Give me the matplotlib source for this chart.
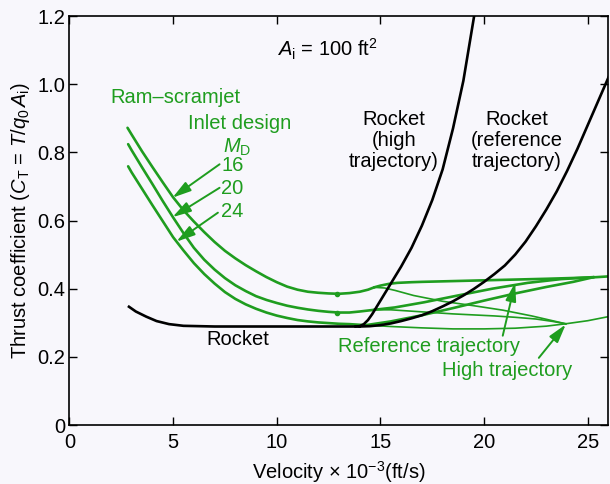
import matplotlib.pyplot as plt

plt.rcParams['font.family'] = ['Liberation Sans', 'DejaVu Sans']
plt.rcParams['mathtext.fontset'] = 'custom'
plt.rcParams['mathtext.rm'] = 'Liberation Sans'
plt.rcParams['mathtext.it'] = 'Liberation Sans:italic'
plt.rcParams['mathtext.bf'] = 'Liberation Sans:bold'

GREEN = '#1f9d1f'
BG = '#f8f7fc'
FS = 14.5

# ram-scramjet curves (common part, before the trajectories split)
md16_x = [2.8, 3.0, 3.5, 4.0, 4.5, 5.0, 5.5, 6.0, 6.5, 7.0, 7.5, 8.0, 8.5, 9.0, 9.5,
          10.0, 10.5, 11.0, 11.5, 12.0, 12.5, 13.0, 13.5, 14.0, 14.4, 14.7]
md16_y = [0.872, 0.852, 0.803, 0.757, 0.712, 0.668, 0.630, 0.597, 0.566, 0.537, 0.511,
          0.489, 0.469, 0.451, 0.434, 0.419, 0.406, 0.397, 0.391, 0.388, 0.386, 0.385,
          0.387, 0.391, 0.397, 0.404]
md20_x = [2.83, 3.0, 3.5, 4.0, 4.5, 5.0, 5.5, 6.0, 6.5, 7.0, 7.5, 8.0, 8.5, 9.0, 9.5,
          10.0, 10.5, 11.0, 11.5, 12.0, 12.5, 13.0, 13.5, 14.0, 14.7]
md20_y = [0.824, 0.806, 0.756, 0.707, 0.657, 0.609, 0.563, 0.520, 0.485, 0.456, 0.431,
          0.410, 0.393, 0.378, 0.367, 0.358, 0.350, 0.344, 0.339, 0.335, 0.332, 0.330,
          0.330, 0.333, 0.338]
md24_x = [2.83, 3.0, 3.5, 4.0, 4.5, 5.0, 5.5, 6.0, 6.5, 7.0, 7.5, 8.0, 8.5, 9.0, 9.5,
          10.0, 10.5, 11.0, 11.5, 12.0, 12.5, 13.0, 13.5, 14.0, 14.3]
md24_y = [0.759, 0.741, 0.693, 0.645, 0.598, 0.551, 0.512, 0.475, 0.443, 0.415, 0.390,
          0.370, 0.354, 0.341, 0.330, 0.321, 0.314, 0.308, 0.304, 0.301, 0.299, 0.297,
          0.296, 0.294, 0.293]

# reference trajectory branches
ref16_x = [14.7, 15.0, 15.4, 15.8, 16.5, 17.0, 19.0, 21.0, 23.0, 25.2, 26.0]
ref16_y = [0.404, 0.409, 0.414, 0.417, 0.419, 0.420, 0.423, 0.426, 0.429, 0.433, 0.436]
ref20_x = [14.7, 15.7, 17.1, 18.9, 20.4, 22.1, 23.7, 25.3]
ref20_y = [0.338, 0.345, 0.360, 0.382, 0.400, 0.417, 0.428, 0.434]
ref24_x = [14.3, 15.5, 17.0, 18.5, 20.0, 21.5, 23.0, 24.3, 25.3]
ref24_y = [0.293, 0.304, 0.322, 0.343, 0.365, 0.386, 0.405, 0.420, 0.434]

# high trajectory branches
high16_x = [14.7, 15.2, 15.7, 16.6, 18.0, 19.5, 20.9, 22.3, 23.94]
high16_y = [0.404, 0.402, 0.395, 0.380, 0.363, 0.350, 0.337, 0.320, 0.297]
high20_x = [14.7, 15.5, 16.5, 17.5, 18.5, 19.5, 20.5, 21.5, 22.5, 23.3, 23.94]
high20_y = [0.338, 0.338, 0.334, 0.330, 0.326, 0.323, 0.320, 0.316, 0.311, 0.304, 0.297]
high24_x = [14.3, 15.5, 17.0, 18.5, 20.0, 21.5, 23.0, 23.94]
high24_y = [0.293, 0.289, 0.285, 0.282, 0.282, 0.284, 0.290, 0.297]
high_end_x = [23.94, 25.0, 26.0]
high_end_y = [0.297, 0.306, 0.318]

# rocket
rocket_x = [2.87, 3.2, 3.7, 4.2, 4.8, 5.5, 7.0, 10.0, 13.0, 14.0]
rocket_y = [0.347, 0.333, 0.318, 0.305, 0.296, 0.291, 0.289, 0.289, 0.289, 0.289]
rocket_high_x = [13.8, 14.0, 14.2, 14.4, 14.6, 15.0, 15.5, 16.0, 16.5, 17.0, 17.5,
                 18.0, 18.5, 19.0, 19.52]
rocket_high_y = [0.289, 0.290, 0.296, 0.308, 0.325, 0.365, 0.415, 0.465, 0.520, 0.585,
                 0.660, 0.750, 0.870, 1.010, 1.200]
rocket_ref_x = [14.0, 14.5, 15.0, 15.5, 16.0, 16.5, 17.0, 17.5, 18.0, 18.5, 19.0, 19.5,
                20.0, 20.5, 21.0, 21.5, 22.0, 22.5, 23.0, 23.5, 24.0, 24.5, 25.0,
                25.5, 26.0]
rocket_ref_y = [0.289, 0.290, 0.293, 0.298, 0.305, 0.313, 0.322, 0.334, 0.348, 0.363,
                0.380, 0.399, 0.420, 0.443, 0.468, 0.500, 0.538, 0.583, 0.632, 0.685,
                0.745, 0.810, 0.880, 0.950, 1.020]

xticks = [0, 5, 10, 15, 20, 25]
yticks = [0, 0.2, 0.4, 0.6, 0.8, 1.0, 1.2]
ytick_labels = ['0', '0.2', '0.4', '0.6', '0.8', '1.0', '1.2']

fig = plt.figure(figsize=(6.1, 4.84), dpi=100, facecolor=BG)
ax = fig.add_axes([0.1139, 0.1219, 0.8836, 0.845])
ax.set_facecolor(BG)

# green curves
for x, y in [(md16_x, md16_y), (md20_x, md20_y), (md24_x, md24_y),
             (ref16_x, ref16_y), (ref20_x, ref20_y), (ref24_x, ref24_y)]:
    ax.plot(x, y, color=GREEN, lw=1.9, solid_capstyle='round')
for x, y in [(high16_x, high16_y), (high20_x, high20_y), (high24_x, high24_y),
             (high_end_x, high_end_y)]:
    ax.plot(x, y, color=GREEN, lw=1.2)
ax.plot([12.9, 12.9], [0.385, 0.330], ls='none', marker='o', ms=3, color=GREEN)

# rocket curves
ax.plot(rocket_x, rocket_y, color='black', lw=1.9)
ax.plot(rocket_high_x, rocket_high_y, color='black', lw=1.9)
ax.plot(rocket_ref_x, rocket_ref_y, color='black', lw=1.9)

ax.set_xlim(0, 26)
ax.set_ylim(0, 1.2)
ax.set_xticks(xticks)
ax.set_yticks(yticks)
ax.set_yticklabels(ytick_labels)
ax.tick_params(direction='in', length=6, width=1, top=True, right=True,
               labelsize=FS, pad=3)
ax.tick_params(axis='x', pad=6)
for s in ax.spines.values():
    s.set_linewidth(1.2)

ax.set_xlabel('Velocity × 10$^{-3}$(ft/s)', fontsize=FS, labelpad=5)
ax.set_ylabel('Thrust coefficient ($C_\\mathrm{T}$ = $T/q_0\\,A_\\mathrm{i}$)',
              fontsize=FS, labelpad=4)

# annotations
ax.text(10.03, 1.103, '$A_\\mathrm{i}$ = 100 ft$^2$', fontsize=FS, va='center')
ax.text(1.95, 0.96, 'Ram–scramjet', color=GREEN, fontsize=FS, va='center')
ax.text(5.7, 0.885, 'Inlet design', color=GREEN, fontsize=FS, va='center')
ax.text(7.39, 0.816, '$M_\\mathrm{D}$', color=GREEN, fontsize=FS, va='center')
for lab, ty in [('16', 0.76), ('20', 0.693), ('24', 0.625)]:
    ax.text(7.32, ty, lab, color=GREEN, fontsize=FS, va='center')

arr = dict(arrowstyle='-|>,head_length=0.7,head_width=0.2', color=GREEN, lw=1.4,
           mutation_scale=16, shrinkA=0, shrinkB=0)
for tail, tip in [((7.24, 0.765), (4.97, 0.667)),
                  ((7.24, 0.696), (4.97, 0.610)),
                  ((7.16, 0.623), (5.16, 0.538)),
                  ((20.9, 0.262), (21.5, 0.418)),
                  ((22.64, 0.197), (23.94, 0.295))]:
    ax.annotate('', xy=tip, xytext=tail, arrowprops=arr)

ax.text(8.11, 0.25, 'Rocket', fontsize=FS, ha='center', va='center')
ax.text(15.66, 0.835, 'Rocket\n(high\ntrajectory)', fontsize=FS, ha='center',
        va='center', linespacing=1.12)
ax.text(21.58, 0.835, 'Rocket\n(reference\ntrajectory)', fontsize=FS, ha='center',
        va='center', linespacing=1.12)
ax.text(17.35, 0.23, 'Reference trajectory', color=GREEN, fontsize=FS,
        ha='center', va='center')
ax.text(21.1, 0.159, 'High trajectory', color=GREEN, fontsize=FS,
        ha='center', va='center')

fig.savefig('out.png', dpi=100, facecolor=BG)
